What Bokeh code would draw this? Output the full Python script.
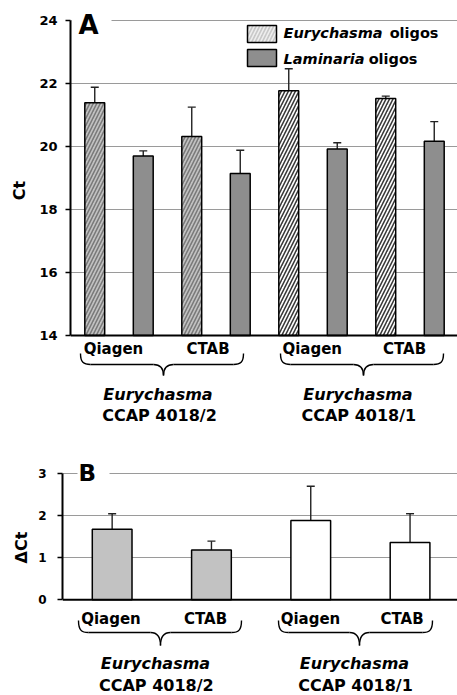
import math
from bokeh.plotting import figure
from bokeh.models import ColumnDataSource, Whisker, TeeHead, FixedTicker, Range1d, Span, Label
from bokeh.layouts import column, row
from bokeh.core.properties import value
from bokeh.embed import file_html
from bokeh.resources import INLINE

# ---------------- data ----------------
methods = ["Qiagen", "CTAB", "Qiagen", "CTAB"]
genus = ["Eurychasma", "Eurychasma"]
strains = ["CCAP 4018/2", "CCAP 4018/1"]
eury_ct = [21.39, 20.32, 21.77, 21.52]
eury_err = [0.49, 0.93, 0.70, 0.08]
lam_ct = [19.70, 19.14, 19.92, 20.17]
lam_err = [0.16, 0.74, 0.20, 0.62]
dct = [1.67, 1.18, 1.88, 1.36]
dct_err = [0.37, 0.21, 0.81, 0.68]
ct_ticks = [14, 16, 18, 20, 22, 24]
dct_ticks = [0, 1, 2, 3]

FONT = "DejaVu Sans"
LAM = "#8e8e8e"
LIGHT = "#c2c2c2"
GRID = "#9a9a9a"
TS = 6.5    # text glyph baseline correction (px)
LS = 10     # Label baseline correction (px)

# page-pixel helpers (panel A)
def ax(px): return (px - 70) / 48.5
def ay(py): return 24 - (py - 20) / 31.5
# panel B
def bx(px): return (px - 62) / 99.3
def by(py): return 3 - (py - 472.7) / 42.2


def style_axis(p, ticks, bounds, size, standoff):
    p.yaxis.ticker = FixedTicker(ticks=ticks)
    p.yaxis.bounds = bounds
    p.yaxis.axis_line_width = 2
    p.yaxis.axis_line_color = "black"
    p.yaxis.major_tick_out = 5
    p.yaxis.major_tick_in = 0
    p.yaxis.major_tick_line_width = 1.5
    p.yaxis.minor_tick_out = 0
    p.yaxis.minor_tick_in = 0
    p.yaxis.major_label_text_font = FONT
    p.yaxis.major_label_text_font_style = "bold"
    p.yaxis.major_label_text_font_size = size
    p.yaxis.major_label_text_color = "black"
    p.yaxis.major_label_standoff = standoff
    p.ygrid.ticker = FixedTicker(ticks=ticks[1:])
    p.ygrid.grid_line_color = GRID
    p.ygrid.grid_line_width = 1


def side_label(text, top, height, cx, cy):
    f = figure(width=30, height=height, x_range=Range1d(0, 30), y_range=Range1d(top + height, top),
               output_backend="svg", toolbar_location=None, x_axis_type=None, y_axis_type=None,
               title=None, min_border=0, outline_line_color=None)
    f.text(x=[cx], y=[cy], text=[text], angle=math.pi / 2, text_font=value(FONT),
           text_font_style="bold", text_font_size="16px", text_align="center",
           text_baseline="middle", text_color="black")
    return f


def brace(p, fx, fy, xl, xc, xr, yt, ym, yb, r=10):
    bz = dict(x0=[], y0=[], x1=[], y1=[], cx0=[], cy0=[], cx1=[], cy1=[])
    def add(a, b, c0, c1):
        bz["x0"].append(fx(a[0])); bz["y0"].append(fy(a[1]))
        bz["x1"].append(fx(b[0])); bz["y1"].append(fy(b[1]))
        bz["cx0"].append(fx(c0[0])); bz["cy0"].append(fy(c0[1]))
        bz["cx1"].append(fx(c1[0])); bz["cy1"].append(fy(c1[1]))
    add((xl, yt), (xl + r, ym), (xl, yt + 0.8 * (ym - yt)), (xl + 0.3 * r, ym))
    add((xc - r, ym), (xc, yb), (xc - 0.3 * r, ym), (xc, ym + 0.3 * (yb - ym)))
    add((xc, yb), (xc + r, ym), (xc, ym + 0.3 * (yb - ym)), (xc + 0.3 * r, ym))
    add((xr - r, ym), (xr, yt), (xr - 0.3 * r, ym), (xr, yt + 0.8 * (ym - yt)))
    p.bezier(source=ColumnDataSource(bz), x0="x0", y0="y0", x1="x1", y1="y1",
             cx0="cx0", cy0="cy0", cx1="cx1", cy1="cy1", line_color="black", line_width=1.4)
    p.segment(x0=[fx(xl + r), fx(xc + r)], y0=[fy(ym)] * 2,
              x1=[fx(xc - r), fx(xr - r)], y1=[fy(ym)] * 2, line_color="black", line_width=1.4)


def txt(p, fx, fy, xs, y, t, size, style="bold", align="center"):
    p.text(x=[fx(v) for v in xs], y=[fy(y - TS)] * len(xs), text=t, text_font=value(FONT),
           text_font_style=style, text_font_size=size, text_align=align,
           text_baseline="alphabetic", text_color="black")


# ---------------- panel A ----------------
pA = figure(width=427, height=440, x_range=Range1d(0, ax(457)), y_range=Range1d(ay(440), ay(0)),
            output_backend="svg", toolbar_location=None, x_axis_type=None, title=None,
            min_border_left=40, min_border_right=0, min_border_top=0, min_border_bottom=0,
            outline_line_color=None)
style_axis(pA, ct_ticks, (14, 24), "13px", 8)

xe = [2 * i + 0.5 for i in range(4)]
xl = [2 * i + 1.5 for i in range(4)]
srcE = ColumnDataSource(dict(x=xe, top=eury_ct, up=[a + b for a, b in zip(eury_ct, eury_err)],
                             fill=[LIGHT, LIGHT, "white", "white"],
                             hc=["#7a7a7a", "#7a7a7a", "#3a3a3a", "#3a3a3a"]))
srcL = ColumnDataSource(dict(x=xl, top=lam_ct, up=[a + b for a, b in zip(lam_ct, lam_err)]))

pA.vbar(x="x", top="top", bottom=14, width=0.41, source=srcE, fill_color="fill",
        hatch_pattern="/", hatch_color="hc", hatch_scale=7, hatch_weight=1.6,
        line_color="black", line_width=1.5)
pA.vbar(x="x", top="top", bottom=14, width=0.41, source=srcL, fill_color=LAM,
        line_color="black", line_width=1.5)
for s in (srcE, srcL):
    pA.add_layout(Whisker(source=s, base="x", lower="top", upper="up", dimension="height",
                          line_color="#222222", line_width=1.4, lower_head=None,
                          upper_head=TeeHead(size=8, line_color="#222222", line_width=1.4)))
pA.add_layout(Span(location=14, dimension="width", line_color="black", line_width=2))

# panel letter
pA.quad(left=[ax(71)], right=[ax(111)], bottom=[ay(23)], top=[ay(17)], fill_color="white", line_color=None)
pA.add_layout(Label(x=ax(78), y=ay(34 - LS), text="A", text_font=FONT, text_font_style="bold",
                    text_font_size="26px", text_baseline="alphabetic", text_align="left",
                    text_color="black"))

# legend
pA.quad(left=[ax(247)], right=[ax(276)], top=[ay(25)], bottom=[ay(42)], fill_color="#c8c8c8",
        hatch_pattern="/", hatch_color="#eeeeee", hatch_scale=7, hatch_weight=1.6,
        line_color="black", line_width=1.5)
pA.quad(left=[ax(247)], right=[ax(276)], top=[ay(49)], bottom=[ay(66)], fill_color=LAM,
        line_color="black", line_width=1.5)
txt(pA, ax, ay, [283], 39, ["Eurychasma"], "14.5px", "bold italic", "left")
txt(pA, ax, ay, [438], 39, ["oligos"], "14.5px", "bold", "right")
txt(pA, ax, ay, [283], 65, ["Laminaria"], "14.5px", "bold italic", "left")
txt(pA, ax, ay, [417], 65, ["oligos"], "14.5px", "bold", "right")

# category labels
txt(pA, ax, ay, [113, 207.5, 311.7, 404], 355, methods, "15px")
brace(pA, ax, ay, 80, 163, 243, 353, 364, 375)
brace(pA, ax, ay, 280, 363, 443, 353, 364, 375)
txt(pA, ax, ay, [157.5, 357.5], 400, genus, "16px", "bold italic")
txt(pA, ax, ay, [159, 358.3], 421, strains, "16px")

lA = side_label("Ct", 0, 440, 18.5, 190)

# ---------------- panel B ----------------
pB = figure(width=427, height=255, x_range=Range1d(0, bx(457)), y_range=Range1d(by(695), by(440)),
            output_backend="svg", toolbar_location=None, x_axis_type=None, title=None,
            min_border_left=32, min_border_right=0, min_border_top=0, min_border_bottom=0,
            outline_line_color=None)
style_axis(pB, dct_ticks, (0, 3), "12px", 11)

srcB = ColumnDataSource(dict(x=[i + 0.5 for i in range(4)], top=dct,
                             up=[a + b for a, b in zip(dct, dct_err)],
                             fill=[LIGHT, LIGHT, "white", "white"]))
pB.vbar(x="x", top="top", bottom=0, width=0.40, source=srcB, fill_color="fill",
        line_color="black", line_width=1.5)
pB.add_layout(Whisker(source=srcB, base="x", lower="top", upper="up", dimension="height",
                      line_color="#222222", line_width=1.4, lower_head=None,
                      upper_head=TeeHead(size=8, line_color="#222222", line_width=1.4)))
pB.add_layout(Span(location=0, dimension="width", line_color="black", line_width=2))

pB.quad(left=[bx(77)], right=[bx(109)], bottom=[by(476)], top=[by(470)], fill_color="white", line_color=None)
pB.add_layout(Label(x=bx(78), y=by(482 - LS), text="B", text_font=FONT, text_font_style="bold",
                    text_font_size="23px", text_baseline="alphabetic", text_align="left",
                    text_color="black"))

txt(pB, bx, by, [110.5, 205, 310, 401.5], 625, methods, "15px")
brace(pB, bx, by, 78, 160, 241, 620, 632, 645)
brace(pB, bx, by, 278, 359, 432, 620, 632, 645)
txt(pB, bx, by, [155, 354], 669, genus, "16px", "bold italic")
txt(pB, bx, by, [155.8, 355], 691, strains, "16px")

lB = side_label("ΔCt", 440, 255, 20.5, 547)

layout = column(row(lA, pA, spacing=0), row(lB, pB, spacing=0), spacing=0)
open("out.html", "w").write(file_html(layout, INLINE))
